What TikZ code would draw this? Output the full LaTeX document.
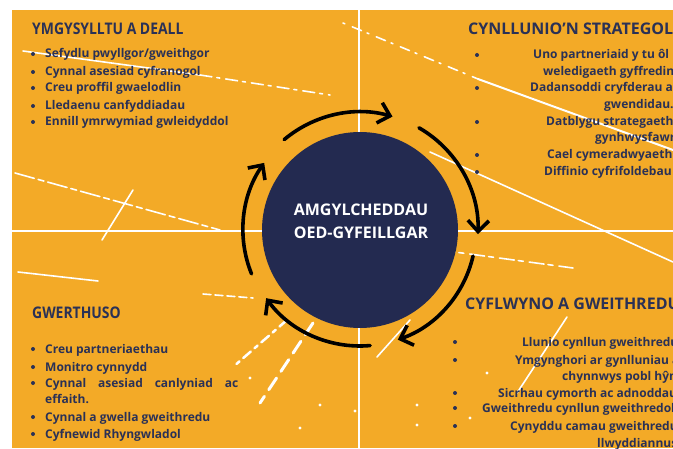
\documentclass[tikz,border=0pt]{standalone}
\usepackage{fontspec}
\setmainfont{Open Sans}
\newfontfamily\headfont{Open Sans}[FakeStretch=0.87]
\usetikzlibrary{arrows.meta,positioning}

\definecolor{amber}{HTML}{F3AA27}
\definecolor{navy}{HTML}{2A3156}
\definecolor{hubblue}{HTML}{232A50}

\tikzset{
  heading/.style={anchor=base west,inner sep=0pt,text=navy,font=\bfseries\fontsize{16}{19}\selectfont},
  narrowhead/.style={heading,font=\headfont\bfseries\fontsize{16}{19}\selectfont},
  item/.style={anchor=base west,inner sep=0pt,text=navy,font=\bfseries\fontsize{12}{14}\selectfont},
  dot/.style={circle,fill=navy,inner sep=0pt,minimum size=4pt},
  cyclearrow/.style={line width=3.6pt,line cap=round,-{Straight Barb[length=11pt,width=21pt]}},
  scratch/.style={white,line width=1.6pt,line cap=round}
}

\begin{document}
\begin{tikzpicture}[x=1pt,y=1pt]
\useasboundingbox (0,0) rectangle (673,448);
\fill[white] (0,0) rectangle (673,448);
\clip (0,0) rectangle (673,448);
\fill[amber] (12,0) rectangle (673,438);

% white scratches
\draw[scratch] (23,397) -- (200,373);
\draw[scratch,dash pattern=on 12pt off 5pt on 3pt off 6pt] (200,373) -- (330,353);
\draw[scratch,dash pattern=on 2pt off 8pt on 10pt off 6pt] (343,425) -- (478,369);
\draw[scratch,line width=2pt] (478,369) -- (673,298);
\draw[scratch] (430,296) -- (673,186);
\draw[scratch,dash pattern=on 20pt off 4pt on 6pt off 4pt] (15,275) -- (220,218);
\draw[scratch] (133,258) -- (102,208);
\draw[scratch] (18,176) -- (98,167);
\draw[scratch,dash pattern=on 8pt off 4pt] (203,154) -- (253,150);
\draw[scratch,line width=2.5pt,dash pattern=on 10pt off 5pt on 4pt off 5pt] (287,128) -- (233,81);
\draw[scratch,line width=3pt,dash pattern=on 14pt off 8pt] (313,125) -- (260,45);
\draw[scratch] (567,131) -- (517,55);
\draw[scratch] (410,128) -- (377,91);
\draw[scratch,dash pattern=on 15pt off 4pt on 5pt off 6pt] (440,198) -- (573,180);
\foreach \sx/\sy in {320/43,417/43,417/23,355/37,487/75,470/30,250/70,300/20}
  \fill[white] (\sx,\sy) circle (1.6pt);

% quadrant dividers
\draw[white,line width=2.5pt] (359,0) -- (359,438);
\draw[white,line width=2.5pt] (12,217) -- (673,217);

% hub
\node[circle,fill=hubblue,minimum size=196pt,inner sep=0pt] (hub) at (360,218) {};
\node[text=white,align=center,font=\bfseries\fontsize{16}{23}\selectfont] (hublabel) at (361,227) {AMGYLCHEDDAU\\OED-GYFEILLGAR};

\draw[cyclearrow] ([shift={(130:118)}]hub.center) arc[start angle=130,end angle=74,radius=118];
\draw[cyclearrow] ([shift={(60:118)}]hub.center) arc[start angle=60,end angle=-2,radius=118];
\draw[cyclearrow] ([shift={(-13:116)}]hub.center) arc[start angle=-13,end angle=-71,radius=116];
\draw[cyclearrow] ([shift={(-85:116)}]hub.center) arc[start angle=-85,end angle=-144,radius=116];
\draw[cyclearrow] ([shift={(202:117)}]hub.center) arc[start angle=202,end angle=145,radius=117];

% top left
\node[narrowhead] (tlhead) at (32,413) {YMGYSYLLTU A DEALL};
\foreach \yy/\txt [count=\i] in {390/{Sefydlu pwyllgor/gweithgor},372/{Cynnal asesiad cyfranogol},356/{Creu proffil gwaelodlin},338/{Lledaenu canfyddiadau},322/{Ennill ymrwymiad gwleidyddol}}{
  \node[item] (tl\i) at (45,\yy) {\txt};
  \node[dot] (tldot\i) at (33,\yy+4) {};
}

% top right
\node[heading] (trhead) at (468,413) {CYNLLUNIO'N STRATEGOL};
\foreach \xx/\yy/\txt [count=\i] in {533/389/{Uno partneriaid y tu ôl i},543/372/{weledigaeth gyffredin},530/356/{Dadansoddi cryfderau a},604/339/{gwendidau.},546/322/{Datblygu strategaeth},595/306/{gynhwysfawr},547/289/{Cael cymeradwyaeth},544/272/{Diffinio cyfrifoldebau}}
  \node[item] (tr\i) at (\xx,\yy) {\txt};
\foreach \yy [count=\i] in {393,360,326,293,276}
  \node[dot] (trdot\i) at (477,\yy) {};

% bottom left
\node[narrowhead] (blhead) at (32,130) {GWERTHUSO};
\foreach \yy/\txt [count=\i] in {95/{Creu partneriaethau},77/{Monitro cynnydd},61/{\makebox[193pt][s]{Cynnal\hfill asesiad\hfill canlyniad\hfill ac}},45/{effaith.},27/{Cynnal a gwella gweithredu},10/{Cyfnewid Rhyngwladol}}
  \node[item] (bl\i) at (45,\yy) {\txt};
\foreach \yy [count=\i] in {99,81,65,31,14}
  \node[dot] (bldot\i) at (33,\yy) {};

% bottom right
\node[heading] (brhead) at (465,139) {CYFLWYNO A GWEITHREDU};
\foreach \xx/\yy/\txt [count=\i] in {522/102/{Llunio cynllun gweithredu},515/84/{Ymgynghori ar gynlluniau a},562/67/{chynnwys pobl hŷn},498/51/{Sicrhau cymorth ac adnoddau},482/36/{Gweithredu cynllun gweithredol},510/18/{Cynyddu camau gweithredu},597/1/{llwyddiannus}}
  \node[item] (br\i) at (\xx,\yy) {\txt};
\foreach \yy [count=\i] in {106,88,55,40,22}
  \node[dot] (brdot\i) at (455,\yy) {};
\end{tikzpicture}
\end{document}
